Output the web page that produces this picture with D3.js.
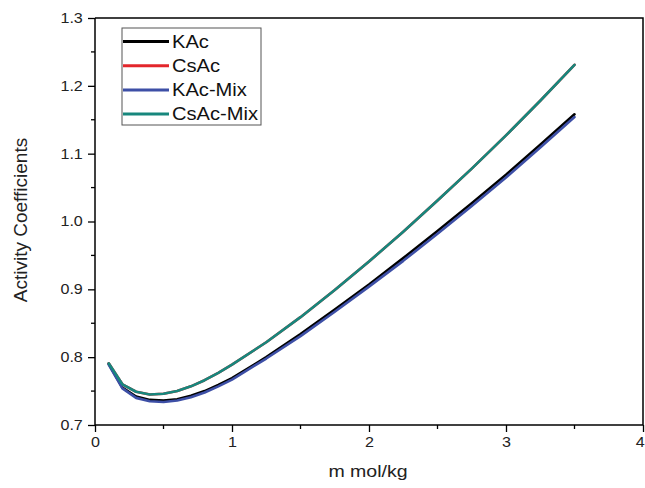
<!DOCTYPE html>
<html>
<head>
<meta charset="utf-8">
<script src="https://cdn.jsdelivr.net/npm/d3@7/dist/d3.min.js"></script>
<style>
  html, body { margin: 0; padding: 0; background: #fff; }
  svg { display: block; font-family: "Liberation Sans", Arial, sans-serif; }
</style>
</head>
<body>
<svg id="chart" width="645" height="488"></svg>
<script>
// Molality (mol/kg) at which the activity coefficients are evaluated
const molality = [0.1, 0.2, 0.3, 0.4, 0.5, 0.6, 0.7, 0.8, 0.9, 1.0,
                  1.25, 1.5, 1.75, 2.0, 2.25, 2.5, 2.75, 3.0, 3.25, 3.5];

const kac     = [0.790, 0.755, 0.742, 0.737, 0.736, 0.738, 0.743, 0.750, 0.759, 0.769,
                 0.800, 0.834, 0.870, 0.907, 0.946, 0.986, 1.027, 1.069, 1.113, 1.158];
const csac    = [0.791, 0.760, 0.749, 0.745, 0.746, 0.750, 0.757, 0.766, 0.777, 0.789,
                 0.822, 0.859, 0.899, 0.941, 0.985, 1.031, 1.078, 1.127, 1.178, 1.231];
const kacMix  = [0.789, 0.754, 0.740, 0.735, 0.734, 0.736, 0.741, 0.748, 0.757, 0.767,
                 0.798, 0.831, 0.867, 0.904, 0.942, 0.982, 1.023, 1.065, 1.109, 1.154];
const csacMix = [0.791, 0.760, 0.749, 0.745, 0.746, 0.750, 0.757, 0.766, 0.777, 0.789,
                 0.822, 0.859, 0.899, 0.941, 0.985, 1.031, 1.078, 1.127, 1.178, 1.231];

const seriesNames  = ["KAc", "CsAc", "KAc-Mix", "CsAc-Mix"];
const seriesValues = [kac, csac, kacMix, csacMix];
const seriesColors = ["#000000", "#e3262b", "#3d4fa6", "#17877d"];

const xTicks = [0, 1, 2, 3, 4];
const yTicks = [0.7, 0.8, 0.9, 1.0, 1.1, 1.2, 1.3];

const svg = d3.select("#chart");
const plotL = 95, plotR = 643, plotT = 18, plotB = 425;
const x = d3.scaleLinear().domain([0, 4]).range([plotL, plotR]);
const y = d3.scaleLinear().domain([0.7, 1.3]).range([plotB, plotT]);

// frame on the top and right sides
svg.append("path")
  .attr("d", `M${plotL},${plotT}H${plotR}V${plotB}`)
  .attr("fill", "none").attr("stroke", "#000").attr("stroke-width", 1.5);

// glyphs are drawn a little wider than tall
const sx = 1.15;

// bottom axis with half-unit minor ticks
const xMinor = d3.range(0.5, 4, 1);
const gx = svg.append("g").attr("transform", `translate(0,${plotB})`);
gx.call(d3.axisBottom(x).tickValues(xTicks).tickFormat(d3.format("d")).tickSize(7).tickPadding(5));
gx.selectAll("line.minor").data(xMinor).enter().append("line")
  .attr("class", "minor")
  .attr("x1", d => x(d)).attr("x2", d => x(d))
  .attr("y1", 0).attr("y2", 4)
  .attr("stroke", "#000").attr("stroke-width", 1.3);

// left axis with minor ticks between the tenths
const yMinor = d3.range(0.75, 1.3, 0.1);
const gy = svg.append("g").attr("transform", `translate(${plotL},0)`);
gy.call(d3.axisLeft(y).tickValues(yTicks).tickFormat(d3.format(".1f")).tickSize(7).tickPadding(4));
gy.selectAll("line.minor").data(yMinor).enter().append("line")
  .attr("class", "minor")
  .attr("y1", d => y(d)).attr("y2", d => y(d))
  .attr("x1", 0).attr("x2", -4)
  .attr("stroke", "#000").attr("stroke-width", 1.3);

[gx, gy].forEach(g => {
  g.select(".domain").attr("stroke-width", 1.5);
  g.selectAll(".tick line").attr("stroke-width", 1.3);
  g.selectAll(".tick text").attr("font-size", 14).attr("fill", "#222")
    .attr("font-family", "Liberation Sans, Arial, sans-serif");
});
gx.select(".domain").attr("d", `M${plotL},0H${plotR}`);
gy.select(".domain").attr("d", `M0,${plotB}V${plotT}`);
gx.selectAll(".tick text").attr("transform", `scale(${sx},1)`);
// the last label sits against the right edge of the page
gx.selectAll(".tick text").filter(d => d === 4)
  .attr("text-anchor", "end").attr("x", 1);
gy.selectAll(".tick text").attr("transform", `translate(-3,0) scale(${sx},1)`)
  .attr("x", -8);

// curves
const line = d3.line()
  .x((d, i) => x(molality[i]))
  .y(d => y(d));
seriesValues.forEach((vals, k) => {
  svg.append("path")
    .datum(vals)
    .attr("d", line)
    .attr("fill", "none")
    .attr("stroke", seriesColors[k])
    .attr("stroke-width", 2.6)
    .attr("stroke-linejoin", "round")
    .attr("stroke-linecap", "round");
});

// axis titles
svg.append("text")
  .attr("transform", `translate(368,477) scale(${sx},1)`)
  .attr("text-anchor", "middle")
  .attr("font-size", 17).attr("fill", "#222")
  .text("m mol/kg");
svg.append("text")
  .attr("transform", `translate(27,220) rotate(-90)`)
  .attr("text-anchor", "middle")
  .attr("font-size", 19).attr("fill", "#222")
  .text("Activity Coefficients");

// legend
const lg = svg.append("g");
lg.append("rect")
  .attr("x", 122).attr("y", 28).attr("width", 139).attr("height", 97)
  .attr("fill", "#fff").attr("stroke", "#555").attr("stroke-width", 1);
seriesNames.forEach((name, k) => {
  const cy = 41.5 + k * 24.2;
  lg.append("line")
    .attr("x1", 123).attr("x2", 169).attr("y1", cy).attr("y2", cy)
    .attr("stroke", seriesColors[k]).attr("stroke-width", 3);
  lg.append("text")
    .attr("transform", `translate(172,${cy + 6}) scale(${sx},1)`)
    .attr("font-size", 17.5).attr("fill", "#111")
    .text(name);
});
</script>
</body>
</html>
